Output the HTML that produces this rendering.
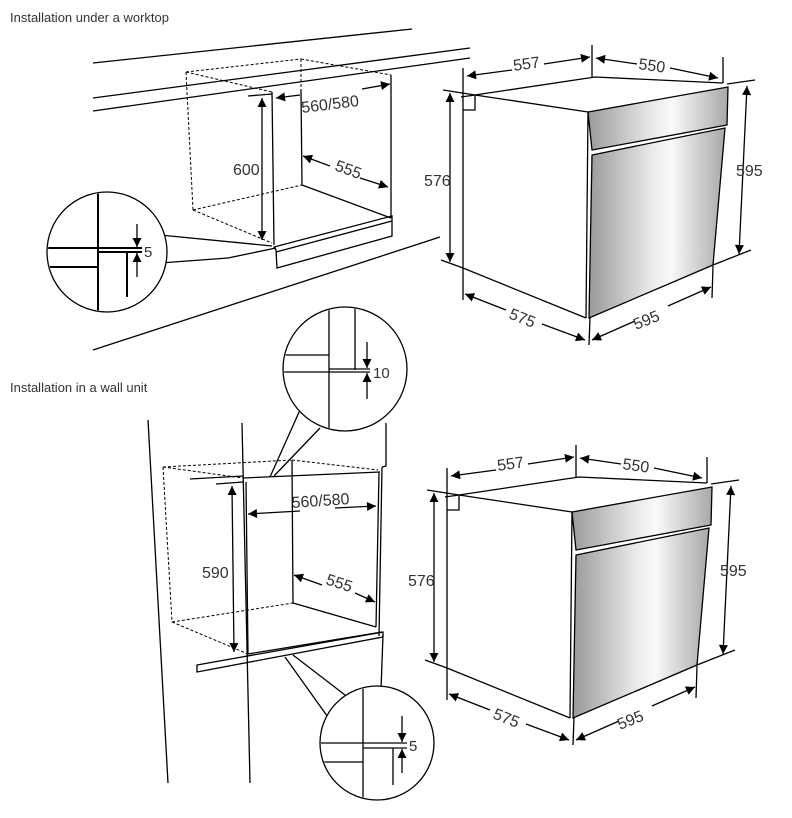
<!DOCTYPE html>
<html><head><meta charset="utf-8"><style>
html,body{margin:0;padding:0;background:#fff;}
svg{display:block;}
text{font-family:"Liberation Sans",sans-serif;fill:#333;}
</style></head><body>
<svg width="792" height="818" viewBox="0 0 792 818" xmlns="http://www.w3.org/2000/svg">
<defs>
<marker id="a" viewBox="0 0 10 10" refX="10" refY="5" markerWidth="12" markerHeight="9" orient="auto-start-reverse" markerUnits="userSpaceOnUse"><path d="M0,0 L10,5 L0,10 z" fill="#000"/></marker>
<linearGradient id="g" x1="0" y1="0" x2="1" y2="0">
<stop offset="0" stop-color="#9a9a9a"/><stop offset="0.45" stop-color="#e8e8e8"/><stop offset="0.6" stop-color="#fafafa"/><stop offset="1" stop-color="#a8a8a8"/></linearGradient>
<clipPath id="c1"><circle cx="107" cy="252" r="59"/></clipPath>
<clipPath id="c2"><circle cx="345" cy="369" r="61"/></clipPath>
<clipPath id="c3"><circle cx="377" cy="743" r="56"/></clipPath>
</defs>
<g stroke="#000" fill="none" stroke-width="1.3">

<!-- ===== TOP LEFT ===== -->
<text x="10" y="22" font-size="13" stroke="none">Installation under a worktop</text>
<line x1="93" y1="63" x2="412" y2="29"/>
<line x1="93" y1="98" x2="470" y2="48"/>
<line x1="93" y1="111" x2="470" y2="58"/>
<line x1="93" y1="350" x2="440" y2="237"/>
<g stroke-dasharray="3,2" stroke-width="1">
<line x1="186" y1="72" x2="301" y2="59"/><line x1="301" y1="59" x2="391" y2="75"/>
<line x1="186" y1="72" x2="272" y2="92"/><line x1="186" y1="72" x2="193" y2="210"/>
<line x1="193" y1="210" x2="272" y2="243"/><line x1="193" y1="210" x2="302" y2="185"/>
<line x1="301" y1="59" x2="301" y2="92"/>
</g>
<line x1="272" y1="92" x2="274" y2="245"/>
<line x1="301" y1="90" x2="302" y2="185"/>
<line x1="391" y1="75" x2="391" y2="218"/>
<line x1="302" y1="185" x2="391" y2="218"/>
<line x1="248" y1="96" x2="272" y2="94"/>
<polygon points="274,247 392,216 392,236 277,268 276,250"/>
<line x1="276" y1="252" x2="392" y2="221"/>
<line x1="228" y1="258" x2="276" y2="248"/>
<line x1="262" y1="98" x2="262" y2="240" marker-start="url(#a)" marker-end="url(#a)"/>
<text x="233" y="175" font-size="16" stroke="none">600</text>
<line x1="300" y1="95" x2="276" y2="98" marker-end="url(#a)"/>
<line x1="362" y1="89" x2="390" y2="84" marker-end="url(#a)"/>
<text x="302" y="113" font-size="16" stroke="none" transform="rotate(-7 302 113)">560/580</text>
<line x1="330" y1="166" x2="303" y2="156" marker-end="url(#a)"/>
<line x1="360" y1="178" x2="388" y2="187" marker-end="url(#a)"/>
<text x="334" y="170" font-size="16" stroke="none" transform="rotate(20 334 170)">555</text>
<!-- magnifier -->
<path d="M160,235 L272,246 M160,263 L228,258" />
<circle cx="107" cy="252" r="60" fill="#fff"/>
<g clip-path="url(#c1)">
<line x1="98" y1="190" x2="98" y2="315" stroke-width="2"/>
<line x1="40" y1="248" x2="142" y2="248" stroke-width="2"/>
<line x1="98" y1="252" x2="142" y2="252" stroke-width="2"/>
<line x1="40" y1="267" x2="98" y2="267" stroke-width="2"/>
<line x1="127" y1="252" x2="127" y2="297" stroke-width="2"/>
</g>
<line x1="137" y1="224" x2="137" y2="247" marker-end="url(#a)"/>
<line x1="137" y1="277" x2="137" y2="253" marker-end="url(#a)"/>
<text x="144" y="257" font-size="15" stroke="none">5</text>

<!-- ===== OVEN (top) ===== -->
<g>
<polygon points="588,112 728,87 727,125 592,150" fill="url(#g)"/>
<polygon points="592,155 725,128 713,265 589,318" fill="url(#g)"/>
<polyline points="475,95 595,77 723,83"/>
<line x1="475" y1="95" x2="588" y2="112"/>
<line x1="588" y1="112" x2="586" y2="318"/>
<line x1="463" y1="268" x2="586" y2="318"/>
<path d="M461,97 L475,95 L475,110 L463,110"/>
<line x1="443" y1="90" x2="475" y2="95"/>
<line x1="441" y1="260" x2="463" y2="268"/>
<line x1="727" y1="84" x2="755" y2="80"/>
<line x1="713" y1="265" x2="751" y2="250"/>
<line x1="463" y1="68" x2="463" y2="300"/>
<line x1="592" y1="45" x2="592" y2="78"/>
<line x1="590" y1="318" x2="589" y2="345"/>
<line x1="723" y1="57" x2="723" y2="83"/>
<line x1="713" y1="266" x2="712" y2="298"/>
<line x1="450" y1="93" x2="450" y2="262" marker-start="url(#a)" marker-end="url(#a)"/>
<text x="424" y="186" font-size="16" stroke="none">576</text>
<line x1="747" y1="86" x2="739" y2="254" marker-start="url(#a)" marker-end="url(#a)"/>
<text x="736" y="176" font-size="16" stroke="none">595</text>
<line x1="512" y1="70" x2="467" y2="76" marker-end="url(#a)"/>
<line x1="544" y1="64" x2="590" y2="57" marker-end="url(#a)"/>
<text x="514" y="71" font-size="16" stroke="none" transform="rotate(-8 514 71)">557</text>
<line x1="637" y1="64" x2="596" y2="58" marker-end="url(#a)"/>
<line x1="670" y1="68" x2="718" y2="78" marker-end="url(#a)"/>
<text x="638" y="69" font-size="16" stroke="none" transform="rotate(8 638 69)">550</text>
<line x1="506" y1="310" x2="465" y2="294" marker-end="url(#a)"/>
<line x1="542" y1="324" x2="585" y2="340" marker-end="url(#a)"/>
<text x="508" y="318" font-size="16" stroke="none" transform="rotate(22 508 318)">575</text>
<line x1="635" y1="321" x2="592" y2="340" marker-end="url(#a)"/>
<line x1="668" y1="306" x2="711" y2="287" marker-end="url(#a)"/>
<text x="636" y="330" font-size="16" stroke="none" transform="rotate(-22 636 330)">595</text>
</g>
<g transform="translate(-16,400)">
<polygon points="588,112 728,87 727,125 592,150" fill="url(#g)"/>
<polygon points="592,155 725,128 713,265 589,318" fill="url(#g)"/>
<polyline points="475,95 595,77 723,83"/>
<line x1="475" y1="95" x2="588" y2="112"/>
<line x1="588" y1="112" x2="586" y2="318"/>
<line x1="463" y1="268" x2="586" y2="318"/>
<path d="M461,97 L475,95 L475,110 L463,110"/>
<line x1="443" y1="90" x2="475" y2="95"/>
<line x1="441" y1="260" x2="463" y2="268"/>
<line x1="727" y1="84" x2="755" y2="80"/>
<line x1="713" y1="265" x2="751" y2="250"/>
<line x1="463" y1="68" x2="463" y2="300"/>
<line x1="592" y1="45" x2="592" y2="78"/>
<line x1="590" y1="318" x2="589" y2="345"/>
<line x1="723" y1="57" x2="723" y2="83"/>
<line x1="713" y1="266" x2="712" y2="298"/>
<line x1="450" y1="93" x2="450" y2="262" marker-start="url(#a)" marker-end="url(#a)"/>
<text x="424" y="186" font-size="16" stroke="none">576</text>
<line x1="747" y1="86" x2="739" y2="254" marker-start="url(#a)" marker-end="url(#a)"/>
<text x="736" y="176" font-size="16" stroke="none">595</text>
<line x1="512" y1="70" x2="467" y2="76" marker-end="url(#a)"/>
<line x1="544" y1="64" x2="590" y2="57" marker-end="url(#a)"/>
<text x="514" y="71" font-size="16" stroke="none" transform="rotate(-8 514 71)">557</text>
<line x1="637" y1="64" x2="596" y2="58" marker-end="url(#a)"/>
<line x1="670" y1="68" x2="718" y2="78" marker-end="url(#a)"/>
<text x="638" y="69" font-size="16" stroke="none" transform="rotate(8 638 69)">550</text>
<line x1="506" y1="310" x2="465" y2="294" marker-end="url(#a)"/>
<line x1="542" y1="324" x2="585" y2="340" marker-end="url(#a)"/>
<text x="508" y="318" font-size="16" stroke="none" transform="rotate(22 508 318)">575</text>
<line x1="635" y1="321" x2="592" y2="340" marker-end="url(#a)"/>
<line x1="668" y1="306" x2="711" y2="287" marker-end="url(#a)"/>
<text x="636" y="330" font-size="16" stroke="none" transform="rotate(-22 636 330)">595</text>
</g>

<!-- ===== BOTTOM LEFT ===== -->
<text x="10" y="392" font-size="13" stroke="none">Installation in a wall unit</text>
<line x1="148" y1="420" x2="168" y2="783"/>
<line x1="242" y1="423" x2="250" y2="783"/>
<polyline points="386,423 386,466 382,467"/>
<line x1="382" y1="467" x2="379" y2="636"/>
<line x1="383" y1="635" x2="381" y2="690"/>
<g stroke-dasharray="3,2" stroke-width="1">
<line x1="163" y1="467" x2="292" y2="460"/><line x1="292" y1="460" x2="378" y2="470"/>
<line x1="163" y1="467" x2="243" y2="478"/><line x1="163" y1="467" x2="172" y2="622"/>
<line x1="172" y1="622" x2="248" y2="654"/><line x1="172" y1="622" x2="293" y2="603"/>
</g>
<line x1="190" y1="479" x2="243" y2="476"/>
<line x1="216" y1="484" x2="243" y2="482"/>
<line x1="243" y1="478" x2="380" y2="472"/>
<line x1="246" y1="482" x2="248" y2="654"/>
<line x1="292" y1="460" x2="293" y2="603"/>
<line x1="379" y1="472" x2="376" y2="627"/>
<line x1="293" y1="603" x2="376" y2="627"/>
<line x1="248" y1="654" x2="382" y2="632"/>
<polygon points="197,665 383,632 383,637 197,672"/>
<line x1="232" y1="486" x2="234" y2="652" marker-start="url(#a)" marker-end="url(#a)"/>
<text x="202" y="578" font-size="16" stroke="none">590</text>
<line x1="300" y1="511" x2="248" y2="514" marker-end="url(#a)"/>
<line x1="335" y1="508" x2="376" y2="506" marker-end="url(#a)"/>
<text x="292" y="508" font-size="16" stroke="none" transform="rotate(-4 292 508)">560/580</text>
<line x1="322" y1="585" x2="294" y2="575" marker-end="url(#a)"/>
<line x1="355" y1="593" x2="375" y2="602" marker-end="url(#a)"/>
<text x="325" y="584" font-size="16" stroke="none" transform="rotate(18 325 584)">555</text>
<!-- top magnifier -->
<path d="M270,477 L300,410 M274,476 L320,428"/>
<circle cx="345" cy="369" r="62" fill="#fff"/>
<g clip-path="url(#c2)">
<line x1="329" y1="300" x2="329" y2="440"/>
<line x1="355" y1="300" x2="355" y2="370"/>
<line x1="280" y1="355" x2="329" y2="355"/>
<line x1="280" y1="372" x2="370" y2="372"/>
<line x1="329" y1="369" x2="370" y2="369"/>
</g>
<line x1="367" y1="342" x2="367" y2="368" marker-end="url(#a)"/>
<line x1="367" y1="399" x2="367" y2="373" marker-end="url(#a)"/>
<text x="373" y="378" font-size="15" stroke="none">10</text>
<!-- bottom magnifier -->
<path d="M285,657 L330,720 M293,655 L345,695"/>
<circle cx="377" cy="743" r="57" fill="#fff"/>
<g clip-path="url(#c3)">
<line x1="363" y1="680" x2="363" y2="810"/>
<line x1="315" y1="743" x2="407" y2="743"/>
<line x1="363" y1="748" x2="407" y2="748"/>
<line x1="315" y1="762" x2="363" y2="762"/>
<line x1="393" y1="748" x2="393" y2="785"/>
</g>
<line x1="402" y1="716" x2="402" y2="742" marker-end="url(#a)"/>
<line x1="402" y1="773" x2="402" y2="749" marker-end="url(#a)"/>
<text x="409" y="751" font-size="15" stroke="none">5</text>
</g>
</svg>
</body></html>
